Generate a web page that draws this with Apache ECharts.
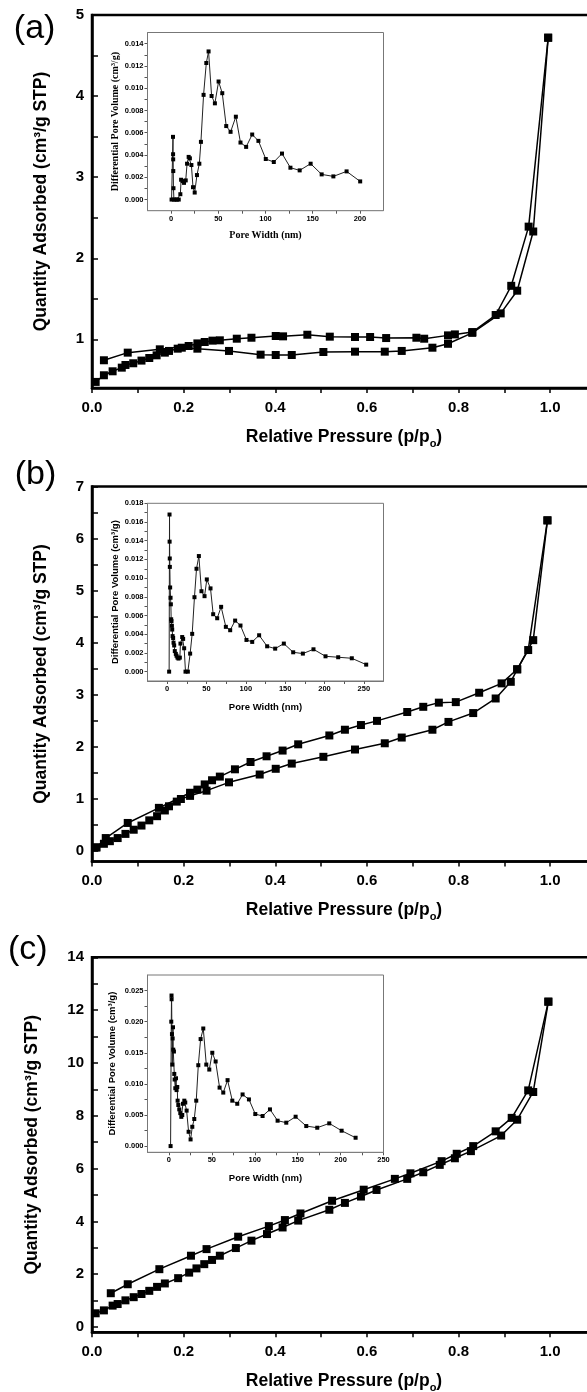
<!DOCTYPE html>
<html>
<head>
<meta charset="utf-8">
<script src="https://cdn.jsdelivr.net/npm/echarts@6/dist/echarts.min.js"></script>
<style>
  html, body { margin: 0; padding: 0; background: #fff; }
  #chart { width: 587px; height: 1392px; }
</style>
</head>
<body>
<div id="chart"></div>
<script>
// (a) isotherm
const aAdsP = [0.008, 0.026, 0.045, 0.065, 0.073, 0.090, 0.108, 0.125, 0.141, 0.159, 0.168, 0.187, 0.196, 0.230, 0.299, 0.368, 0.401, 0.436, 0.505, 0.574, 0.639, 0.676, 0.743, 0.777, 0.830, 0.892, 0.928, 0.963, 0.9956];
const aAdsQ = [0.475, 0.557, 0.606, 0.651, 0.684, 0.705, 0.738, 0.770, 0.803, 0.836, 0.857, 0.885, 0.897, 0.885, 0.857, 0.811, 0.807, 0.807, 0.844, 0.848, 0.848, 0.857, 0.897, 0.945, 1.08, 1.32, 1.60, 2.33, 4.72];
const aDesP = [0.9956, 0.953, 0.915, 0.881, 0.830, 0.792, 0.777, 0.725, 0.708, 0.642, 0.607, 0.574, 0.519, 0.470, 0.417, 0.401, 0.348, 0.316, 0.279, 0.263, 0.246, 0.230, 0.211, 0.148, 0.078, 0.026];
const aDesQ = [4.72, 2.39, 1.66, 1.30, 1.09, 1.061, 1.049, 1.008, 1.02, 1.016, 1.029, 1.029, 1.033, 1.057, 1.037, 1.041, 1.02, 1.008, 0.988, 0.984, 0.967, 0.95, 0.918, 0.877, 0.836, 0.742];

// (b) isotherm
const bAdsP = [0.008, 0.026, 0.039, 0.056, 0.073, 0.091, 0.108, 0.125, 0.142, 0.159, 0.168, 0.185, 0.194, 0.214, 0.250, 0.299, 0.366, 0.401, 0.436, 0.505, 0.574, 0.639, 0.676, 0.743, 0.778, 0.832, 0.881, 0.914, 0.928, 0.963, 0.994];
const bAdsQ = [0.07, 0.14, 0.19, 0.25, 0.33, 0.41, 0.49, 0.59, 0.67, 0.78, 0.86, 0.95, 1.0, 1.06, 1.16, 1.32, 1.47, 1.58, 1.68, 1.81, 1.95, 2.07, 2.18, 2.33, 2.48, 2.65, 2.93, 3.25, 3.49, 4.05, 6.35];
const bDesP = [0.994, 0.952, 0.928, 0.894, 0.845, 0.794, 0.757, 0.723, 0.688, 0.622, 0.587, 0.552, 0.518, 0.450, 0.416, 0.381, 0.346, 0.312, 0.279, 0.262, 0.246, 0.230, 0.214, 0.146, 0.078, 0.030, 0.010];
const bDesQ = [6.35, 3.86, 3.49, 3.22, 3.04, 2.86, 2.85, 2.77, 2.67, 2.50, 2.42, 2.33, 2.22, 2.05, 1.93, 1.82, 1.71, 1.57, 1.43, 1.36, 1.28, 1.18, 1.12, 0.83, 0.54, 0.25, 0.07];

// (c) isotherm
const cAdsP = [0.008, 0.026, 0.045, 0.056, 0.073, 0.091, 0.108, 0.125, 0.142, 0.159, 0.188, 0.212, 0.228, 0.245, 0.262, 0.279, 0.314, 0.348, 0.382, 0.416, 0.450, 0.518, 0.552, 0.587, 0.621, 0.688, 0.723, 0.759, 0.792, 0.827, 0.893, 0.928, 0.963, 0.996];
const cAdsQ = [0.52, 0.63, 0.81, 0.87, 1.01, 1.13, 1.25, 1.37, 1.52, 1.65, 1.85, 2.06, 2.22, 2.38, 2.54, 2.70, 2.99, 3.27, 3.52, 3.77, 4.03, 4.44, 4.70, 4.94, 5.19, 5.61, 5.86, 6.14, 6.39, 6.66, 7.25, 7.85, 8.90, 12.32];
const cDesP = [0.996, 0.952, 0.916, 0.881, 0.832, 0.796, 0.763, 0.695, 0.661, 0.593, 0.524, 0.455, 0.421, 0.386, 0.319, 0.250, 0.216, 0.147, 0.078, 0.041];
const cDesQ = [12.32, 8.96, 7.92, 7.41, 6.85, 6.56, 6.28, 5.82, 5.61, 5.20, 4.78, 4.30, 4.05, 3.82, 3.42, 2.95, 2.70, 2.19, 1.62, 1.28];

// insets: pore size distribution
const aPoreW = [0.5, 2.0, 2.1, 2.2, 2.3, 2.5, 3.0, 4.6, 6.3, 8.1, 9.8, 10.6, 12.3, 13.7, 15.5, 16.9, 18.6, 19.9, 21.5, 23.2, 25.0, 27.4, 29.9, 31.6, 34.4, 37.3, 39.7, 42.9, 46.4, 50.3, 54.2, 58.4, 63.0, 68.6, 73.5, 79.5, 85.9, 92.5, 100.3, 108.8, 117.5, 126.4, 136.2, 147.8, 159.5, 171.9, 185.9, 200.3];
const aPoreV = [0, 0.00563, 0.00407, 0.00361, 0.00256, 0.00102, 0, 0, 0, 0, 0.00048, 0.00178, 0.00166, 0.0015, 0.00172, 0.00322, 0.00383, 0.0037, 0.0031, 0.00111, 0.00063, 0.0022, 0.00322, 0.00518, 0.0094, 0.01226, 0.0133, 0.0093, 0.00864, 0.0106, 0.00955, 0.0066, 0.00608, 0.00744, 0.00512, 0.00473, 0.00584, 0.00527, 0.00364, 0.00337, 0.00413, 0.00286, 0.00262, 0.00322, 0.00226, 0.00208, 0.00253, 0.00163];

const bPoreW = [2.5, 3.0, 3.1, 3.3, 3.4, 3.8, 4.3, 4.7, 5.1, 5.5, 6.0, 6.4, 6.9, 7.6, 8.1, 8.9, 9.7, 11.0, 11.9, 13.1, 14.4, 16.1, 16.9, 19.1, 20.3, 21.6, 23.3, 26.3, 29.2, 31.8, 34.7, 37.3, 40.3, 43.6, 47.5, 50.4, 55.1, 58.5, 63.6, 68.6, 74.6, 80.1, 86.4, 93.2, 100.8, 108.1, 116.9, 127.1, 137.3, 148.3, 160.2, 172.5, 186.0, 201.3, 217.4, 234.7, 253.0];
const bPoreV = [0, 0.0168, 0.0139, 0.0121, 0.0112, 0.0090, 0.0079, 0.0072, 0.0056, 0.0054, 0.0049, 0.0045, 0.0038, 0.0036, 0.0031, 0.0028, 0.0022, 0.0019, 0.0017, 0.0015, 0.0014, 0.0015, 0.0030, 0.0037, 0.0035, 0.0025, 0, 0, 0.00193, 0.00404, 0.00796, 0.0110, 0.01236, 0.0086, 0.00807, 0.00986, 0.0089, 0.00614, 0.00571, 0.00693, 0.00479, 0.00443, 0.00546, 0.00493, 0.00339, 0.00318, 0.00389, 0.00271, 0.00246, 0.0030, 0.00207, 0.00193, 0.00239, 0.00164, 0.00154, 0.00143, 0.00075];

const cPoreW = [1.9, 2.7, 3.0, 3.1, 3.5, 3.9, 4.3, 4.7, 5.0, 5.8, 6.2, 6.6, 7.4, 8.2, 8.9, 9.7, 10.1, 10.9, 12.0, 13.2, 14.4, 15.5, 16.3, 17.9, 19.0, 20.6, 22.9, 25.2, 27.2, 29.5, 31.8, 34.2, 36.9, 40.0, 43.5, 47.0, 50.5, 54.4, 59.0, 63.3, 68.3, 73.8, 79.6, 85.8, 93.2, 100.6, 109.1, 117.7, 126.6, 136.7, 147.6, 160.0, 172.8, 186.8, 201.2, 217.5];
const cPoreV = [0, 0.0200, 0.0242, 0.0236, 0.0180, 0.0131, 0.0173, 0.0191, 0.0155, 0.0152, 0.0116, 0.0107, 0.0093, 0.0109, 0.0090, 0.0095, 0.0073, 0.0066, 0.0059, 0.0053, 0.0047, 0.0050, 0.0068, 0.0073, 0.0070, 0.0057, 0.0023, 0.00107, 0.0031, 0.00435, 0.0073, 0.0130, 0.0172, 0.0189, 0.0131, 0.0123, 0.0150, 0.0136, 0.0094, 0.0086, 0.0106, 0.0073, 0.0068, 0.0083, 0.0075, 0.00515, 0.00483, 0.0059, 0.00408, 0.00376, 0.00472, 0.00322, 0.00295, 0.00365, 0.00247, 0.00134];

// ticks and labels
const pTicks = [0, 0.1, 0.2, 0.3, 0.4, 0.5, 0.6, 0.7, 0.8, 0.9, 1.0];
const pLabels = [0, 0.2, 0.4, 0.6, 0.8, 1.0];
const aQTicks = [0.5, 1, 1.5, 2, 2.5, 3, 3.5, 4, 4.5, 5];
const aQLabels = [1, 2, 3, 4, 5];
const bQTicks = [0, 0.5, 1, 1.5, 2, 2.5, 3, 3.5, 4, 4.5, 5, 5.5, 6, 6.5, 7];
const bQLabels = [0, 1, 2, 3, 4, 5, 6, 7];
const cQTicks = [0, 1, 2, 3, 4, 5, 6, 7, 8, 9, 10, 11, 12, 13, 14];
const cQLabels = [0, 2, 4, 6, 8, 10, 12, 14];
const wTicksA = [0, 25, 50, 75, 100, 125, 150, 175, 200];
const wTicksB = [0, 25, 50, 75, 100, 125, 150, 175, 200, 225, 250];
const wLabelsA = [0, 50, 100, 150, 200];
const wLabelsB = [0, 50, 100, 150, 200, 250];
const aVTicks = [0, 0.001, 0.002, 0.003, 0.004, 0.005, 0.006, 0.007, 0.008, 0.009, 0.010, 0.011, 0.012, 0.013, 0.014];
const aVLabels = [0, 0.002, 0.004, 0.006, 0.008, 0.010, 0.012, 0.014];
const bVTicks = [0, 0.001, 0.002, 0.003, 0.004, 0.005, 0.006, 0.007, 0.008, 0.009, 0.010, 0.011, 0.012, 0.013, 0.014, 0.015, 0.016, 0.017, 0.018];
const bVLabels = [0, 0.002, 0.004, 0.006, 0.008, 0.010, 0.012, 0.014, 0.016, 0.018];
const cVTicks = [0, 0.0025, 0.005, 0.0075, 0.010, 0.0125, 0.015, 0.0175, 0.020, 0.0225, 0.025];
const cVLabels = [0, 0.005, 0.010, 0.015, 0.020, 0.025];

const SANS = 'Liberation Sans, Arial, sans-serif';
const SERIF = 'Liberation Serif, Times New Roman, serif';

function zip(xs, ys) { return xs.map((x, i) => [x, ys[i]]); }

function mainX(g) {
  return {
    type: 'value', gridIndex: g, min: 0, max: 1.1,
    axisLine: { onZero: false, lineStyle: { color: '#000', width: 2.5 } },
    axisTick: { inside: false, length: 5, lineStyle: { color: '#000', width: 1.5 }, customValues: pTicks },
    axisLabel: { customValues: pLabels, formatter: v => v.toFixed(1), color: '#000', fontSize: 15, fontWeight: 'bold', fontFamily: SANS, margin: 12 },
    splitLine: { show: false },
    name: 'Relative Pressure (p/p{s|o})', nameLocation: 'middle', nameGap: 37,
    nameTextStyle: {
      color: '#000', fontSize: 17.5, fontWeight: 'bold', fontFamily: SANS, lineHeight: 24,
      rich: { s: { fontSize: 11, fontWeight: 'bold', fontFamily: SANS, color: '#000', lineHeight: 9, verticalAlign: 'bottom' } }
    }
  };
}
function mainY(g, min, max, ticks, labels, gap) {
  return {
    type: 'value', gridIndex: g, min: min, max: max,
    axisLine: { onZero: false, lineStyle: { color: '#000', width: 2.5 } },
    axisTick: { inside: true, length: 6, lineStyle: { color: '#000', width: 1.5 }, customValues: ticks },
    axisLabel: { customValues: labels, color: '#000', fontSize: 15, fontWeight: 'bold', fontFamily: SANS, margin: 8 },
    splitLine: { show: false },
    name: 'Quantity Adsorbed (cm³/g STP)', nameLocation: 'middle', nameGap: gap,
    nameTextStyle: { color: '#000', fontSize: 17.5, fontWeight: 'bold', fontFamily: SANS }
  };
}
function insetX(g, max, ticks, labels, font, size, gap) {
  return {
    type: 'value', gridIndex: g, min: -25, max: max,
    axisLine: { onZero: false, lineStyle: { color: '#777', width: 1 } },
    axisTick: { length: 3, lineStyle: { color: '#555', width: 1 }, customValues: ticks },
    axisLabel: { customValues: labels, color: '#000', fontSize: 7.5, fontWeight: 'bold', fontFamily: SANS, margin: 4 },
    splitLine: { show: false },
    name: 'Pore Width (nm)', nameLocation: 'middle', nameGap: gap,
    nameTextStyle: { color: '#000', fontSize: size, fontWeight: 'bold', fontFamily: font }
  };
}
function insetY(g, max, ticks, labels, font, size, gap) {
  return {
    type: 'value', gridIndex: g, min: -0.001, max: max,
    axisLine: { onZero: false, lineStyle: { color: '#777', width: 1 } },
    axisTick: { length: 3, lineStyle: { color: '#555', width: 1 }, customValues: ticks },
    axisLabel: { customValues: labels, formatter: v => v.toFixed(3), color: '#000', fontSize: 7.5, fontWeight: 'bold', fontFamily: SANS, margin: 4 },
    splitLine: { show: false },
    name: 'Differential Pore Volume (cm³/g)', nameLocation: 'middle', nameGap: gap,
    nameTextStyle: { color: '#000', fontSize: size, fontWeight: 'bold', fontFamily: font }
  };
}
function mainLine(g, xs, ys) {
  return {
    type: 'line', xAxisIndex: g, yAxisIndex: g, data: zip(xs, ys),
    symbol: 'rect', symbolSize: 8, showAllSymbol: true, animation: false,
    itemStyle: { color: '#000' }, lineStyle: { color: '#000', width: 1.5 }
  };
}
function insetLine(g, xs, ys) {
  return {
    type: 'line', xAxisIndex: g, yAxisIndex: g, data: zip(xs, ys),
    symbol: 'rect', symbolSize: 4, showAllSymbol: true, animation: false,
    itemStyle: { color: '#000' }, lineStyle: { color: '#222', width: 1 }
  };
}

const mainGrid = { show: true, borderColor: '#000', borderWidth: 2.5, backgroundColor: 'transparent', outerBoundsMode: 'none' };
const insetGrid = { show: true, borderColor: '#777', borderWidth: 1, backgroundColor: '#fff', outerBoundsMode: 'none', z: 3 };

const chart = echarts.init(document.getElementById('chart'), null, { renderer: 'canvas' });
chart.setOption({
  animation: false,
  backgroundColor: '#fff',
  grid: [
    Object.assign({ left: 92, top: 15, width: 504, height: 373 }, mainGrid),
    Object.assign({ left: 92, top: 486.5, width: 504, height: 375 }, mainGrid),
    Object.assign({ left: 92, top: 957.3, width: 504, height: 375 }, mainGrid),
    Object.assign({ left: 147.5, top: 32.5, width: 236, height: 178.2 }, insetGrid),
    Object.assign({ left: 147.5, top: 503.3, width: 236, height: 177.7 }, insetGrid),
    Object.assign({ left: 147.5, top: 975, width: 236, height: 177.3 }, insetGrid)
  ],
  xAxis: [
    mainX(0), mainX(1), mainX(2),
    insetX(3, 225, wTicksA, wLabelsA, SERIF, 10, 20),
    insetX(4, 275, wTicksB, wLabelsB, SANS, 9.5, 21),
    insetX(5, 250, wTicksB, wLabelsB, SANS, 9.5, 21)
  ],
  yAxis: [
    mainY(0, 0.4, 5, aQTicks, aQLabels, 42),
    mainY(1, -0.2, 7, bQTicks, bQLabels, 42),
    mainY(2, -0.2, 14, cQTicks, cQLabels, 51),
    insetY(3, 0.015, aVTicks, aVLabels, SERIF, 10, 27),
    insetY(4, 0.018, bVTicks, bVLabels, SANS, 9.5, 27),
    insetY(5, 0.0275, cVTicks, cVLabels, SANS, 9.5, 30)
  ],
  series: [
    mainLine(0, aAdsP, aAdsQ), mainLine(0, aDesP, aDesQ),
    mainLine(1, bAdsP, bAdsQ), mainLine(1, bDesP, bDesQ),
    mainLine(2, cAdsP, cAdsQ), mainLine(2, cDesP, cDesQ),
    insetLine(3, aPoreW, aPoreV),
    insetLine(4, bPoreW, bPoreV),
    insetLine(5, cPoreW, cPoreV)
  ],
  graphic: [
    { type: 'text', x: 34.6, y: 29, style: { text: '(a)', fontSize: 34, fontFamily: SANS, fill: '#000', textAlign: 'center', textVerticalAlign: 'middle', align: 'center', verticalAlign: 'middle' } },
    { type: 'text', x: 35.5, y: 475, style: { text: '(b)', fontSize: 34, fontFamily: SANS, fill: '#000', textAlign: 'center', textVerticalAlign: 'middle', align: 'center', verticalAlign: 'middle' } },
    { type: 'text', x: 27.7, y: 950, style: { text: '(c)', fontSize: 34, fontFamily: SANS, fill: '#000', textAlign: 'center', textVerticalAlign: 'middle', align: 'center', verticalAlign: 'middle' } }
  ]
});
</script>
</body>
</html>
